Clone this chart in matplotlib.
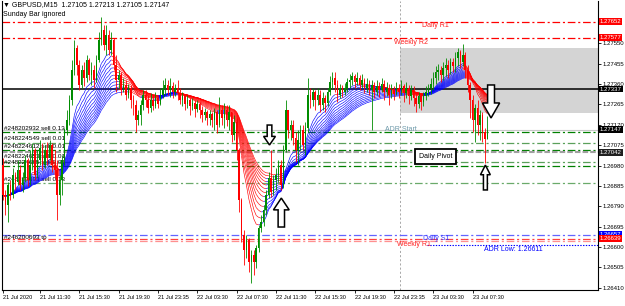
import numpy as np
import pandas as pd
import matplotlib
matplotlib.use('Agg')
import matplotlib.pyplot as plt
from matplotlib.collections import LineCollection
from matplotlib.patches import FancyArrow, Rectangle

plt.rcParams['font.family'] = ['Liberation Sans', 'DejaVu Sans']
plt.rcParams['lines.scale_dashes'] = False

# GBPUSD M15 candles (open = previous close)
first_open = 1.26982
closes = [
    1.26842, 1.26796, 1.26889, 1.26842, 1.26936, 1.26903, 1.26959, 1.26889, 1.26922, 1.27006,
    1.26912, 1.26982, 1.27053, 1.26936, 1.27006, 1.27062, 1.26982, 1.27053, 1.27015, 1.27076,
    1.26982, 1.26959, 1.26842, 1.26912, 1.27006, 1.27146, 1.27193, 1.27286, 1.27426, 1.27529,
    1.27449, 1.27356, 1.27426, 1.27389, 1.27473, 1.27403, 1.27426, 1.27379, 1.27473, 1.27566,
    1.27613, 1.27543, 1.27590, 1.27519, 1.27566, 1.27449, 1.27379, 1.27403, 1.27333, 1.27356,
    1.27309, 1.27342, 1.27286, 1.27263, 1.27193, 1.27216, 1.27263, 1.27309, 1.27286, 1.27249,
    1.27286, 1.27258, 1.27295, 1.27267, 1.27309, 1.27342, 1.27356, 1.27333, 1.27351, 1.27323,
    1.27342, 1.27319, 1.27286, 1.27305, 1.27267, 1.27286, 1.27258, 1.27272, 1.27244, 1.27267,
    1.27239, 1.27216, 1.27230, 1.27202, 1.27221, 1.27193, 1.27230, 1.27169, 1.27239, 1.27202,
    1.27239, 1.27193, 1.27230, 1.27123, 1.27183, 1.27053, 1.26819, 1.26656, 1.26585, 1.26632,
    1.26529, 1.26562, 1.26529, 1.26595, 1.26688, 1.26716, 1.26772, 1.26842, 1.26922, 1.26856,
    1.26912, 1.26936, 1.26982, 1.26889, 1.27053, 1.27239, 1.27146, 1.27169, 1.27109, 1.27053,
    1.27099, 1.27146, 1.27076, 1.27155, 1.27309, 1.27286, 1.27323, 1.27286, 1.27309, 1.27263,
    1.27295, 1.27272, 1.27323, 1.27370, 1.27389, 1.27356, 1.27309, 1.27342, 1.27323, 1.27342,
    1.27370, 1.27379, 1.27398, 1.27370, 1.27389, 1.27356, 1.27379, 1.27342, 1.27361, 1.27333,
    1.27356, 1.27323, 1.27351, 1.27333, 1.27361, 1.27323, 1.27342, 1.27309, 1.27333, 1.27314,
    1.27342, 1.27323, 1.27351, 1.27319, 1.27342, 1.27305, 1.27333, 1.27295, 1.27267, 1.27305,
    1.27277, 1.27305, 1.27323, 1.27342, 1.27361, 1.27389, 1.27417, 1.27426, 1.27403, 1.27435,
    1.27449, 1.27426, 1.27463, 1.27445, 1.27482, 1.27510, 1.27463, 1.27496, 1.27426, 1.27356,
    1.27286, 1.27193, 1.27249, 1.27169, 1.27216, 1.27137, 1.27105, 1.27147,
]
highs = [
    1.27015, 1.26866, 1.26903, 1.26912, 1.26968, 1.26950, 1.27006, 1.26982, 1.26950, 1.27029,
    1.27015, 1.27053, 1.27085, 1.27062, 1.27053, 1.27099, 1.27085, 1.27076, 1.27090, 1.27099,
    1.27085, 1.27053, 1.27006, 1.26936, 1.27029, 1.27155, 1.27239, 1.27309, 1.27473, 1.27566,
    1.27543, 1.27473, 1.27449, 1.27463, 1.27496, 1.27482, 1.27463, 1.27449, 1.27496, 1.27604,
    1.27674, 1.27636, 1.27636, 1.27613, 1.27604, 1.27576, 1.27496, 1.27426, 1.27417, 1.27389,
    1.27379, 1.27361, 1.27356, 1.27309, 1.27286, 1.27239, 1.27286, 1.27333, 1.27333, 1.27309,
    1.27319, 1.27309, 1.27323, 1.27309, 1.27342, 1.27379, 1.27389, 1.27379, 1.27389, 1.27370,
    1.27361, 1.27379, 1.27342, 1.27323, 1.27314, 1.27309, 1.27295, 1.27295, 1.27286, 1.27286,
    1.27277, 1.27258, 1.27249, 1.27239, 1.27239, 1.27230, 1.27249, 1.27239, 1.27300, 1.27263,
    1.27272, 1.27263, 1.27263, 1.27230, 1.27216, 1.27202, 1.27062, 1.26828, 1.26679, 1.26656,
    1.26642, 1.26585, 1.26585, 1.26609, 1.26702, 1.26749, 1.26796, 1.26866, 1.26950, 1.27053,
    1.26936, 1.26968, 1.27006, 1.27006, 1.27076, 1.27286, 1.27230, 1.27193, 1.27193, 1.27137,
    1.27146, 1.27169, 1.27169, 1.27183, 1.27389, 1.27342, 1.27342, 1.27333, 1.27342, 1.27333,
    1.27323, 1.27309, 1.27342, 1.27398, 1.27417, 1.27417, 1.27379, 1.27361, 1.27356, 1.27365,
    1.27389, 1.27407, 1.27417, 1.27407, 1.27417, 1.27403, 1.27407, 1.27389, 1.27389, 1.27379,
    1.27379, 1.27370, 1.27379, 1.27370, 1.27389, 1.27379, 1.27370, 1.27361, 1.27361, 1.27351,
    1.27370, 1.27361, 1.27379, 1.27361, 1.27370, 1.27356, 1.27356, 1.27351, 1.27323, 1.27323,
    1.27314, 1.27323, 1.27351, 1.27361, 1.27389, 1.27417, 1.27445, 1.27454, 1.27445, 1.27463,
    1.27482, 1.27473, 1.27482, 1.27482, 1.27510, 1.27529, 1.27519, 1.27548, 1.27510, 1.27449,
    1.27370, 1.27309, 1.27267, 1.27286, 1.27239, 1.27230, 1.27155, 1.27213,
]
lows = [
    1.26819, 1.26749, 1.26716, 1.26819, 1.26828, 1.26866, 1.26889, 1.26866, 1.26856, 1.26903,
    1.26884, 1.26889, 1.26959, 1.26912, 1.26922, 1.26982, 1.26959, 1.26968, 1.26982, 1.27006,
    1.26950, 1.26922, 1.26726, 1.26796, 1.26842, 1.26982, 1.27123, 1.27169, 1.27263, 1.27403,
    1.27403, 1.27333, 1.27342, 1.27351, 1.27370, 1.27379, 1.27356, 1.27342, 1.27370, 1.27463,
    1.27543, 1.27519, 1.27496, 1.27496, 1.27496, 1.27426, 1.27323, 1.27342, 1.27309, 1.27323,
    1.27286, 1.27295, 1.27249, 1.27216, 1.27137, 1.27169, 1.27169, 1.27239, 1.27253, 1.27225,
    1.27230, 1.27239, 1.27249, 1.27249, 1.27263, 1.27295, 1.27309, 1.27309, 1.27300, 1.27295,
    1.27305, 1.27286, 1.27267, 1.27258, 1.27239, 1.27249, 1.27216, 1.27239, 1.27207, 1.27230,
    1.27202, 1.27183, 1.27193, 1.27169, 1.27169, 1.27160, 1.27146, 1.27132, 1.27160, 1.27169,
    1.27155, 1.27165, 1.27146, 1.27090, 1.27099, 1.27006, 1.26763, 1.26623, 1.26515, 1.26548,
    1.26483, 1.26431, 1.26469, 1.26501, 1.26576, 1.26670, 1.26698, 1.26749, 1.26828, 1.26833,
    1.26842, 1.26866, 1.26903, 1.26866, 1.26875, 1.27043, 1.27109, 1.27099, 1.27076, 1.26996,
    1.26982, 1.27053, 1.27053, 1.27029, 1.27137, 1.27249, 1.27258, 1.27239, 1.27263, 1.27230,
    1.27239, 1.27230, 1.27258, 1.27309, 1.27342, 1.27323, 1.27277, 1.27295, 1.27300, 1.27309,
    1.27323, 1.27342, 1.27356, 1.27342, 1.27356, 1.27333, 1.27342, 1.27319, 1.27323, 1.27309,
    1.27146, 1.27295, 1.27309, 1.27300, 1.27323, 1.27286, 1.27305, 1.27263, 1.27295, 1.27286,
    1.27309, 1.27295, 1.27309, 1.27277, 1.27295, 1.27267, 1.27286, 1.27258, 1.27230, 1.27249,
    1.27239, 1.27258, 1.27286, 1.27305, 1.27314, 1.27333, 1.27361, 1.27379, 1.27370, 1.27379,
    1.27398, 1.27389, 1.27407, 1.27417, 1.27417, 1.27445, 1.27435, 1.27445, 1.27389, 1.27323,
    1.27202, 1.27137, 1.27090, 1.27123, 1.27099, 1.27090, 1.26992, 1.27105,
]
ema_periods = [10, 12, 14, 16, 18, 20, 22, 24, 26, 28, 30, 32, 34]

# time axis
tick_bars = [0, 15, 31, 47, 63, 79, 95, 111, 127, 143, 159, 175, 191]
tick_labels = ['21 Jul 2020', '21 Jul 11:30', '21 Jul 15:30', '21 Jul 19:30', '21 Jul 23:35',
               '22 Jul 03:30', '22 Jul 07:30', '22 Jul 11:30', '22 Jul 15:30', '22 Jul 19:30',
               '22 Jul 23:35', '23 Jul 03:30', '23 Jul 07:30']
price_ticks = [1.27550, 1.27455, 1.27360, 1.27265, 1.27170, 1.27075, 1.26980,
               1.26885, 1.26790, 1.26695, 1.26600, 1.26505, 1.26410]

# horizontal levels
level_prices = [1.27652, 1.27577, 1.27337, 1.27147, 1.27135, 1.27086, 1.27052, 1.27042,
                1.26995, 1.26979, 1.26898, 1.26657, 1.26639, 1.26628]
level_colors = ['#ff0000', '#ff0000', '#000000', '#c8c8c8', '#008000', '#5aa05a', '#008000',
                '#a0a0a0', '#5aa05a', '#008000', '#6aaa6a', '#6464ff', '#ff4040', '#ff9090']
adr_low = 1.26611
session_start = 161.5
box_top, box_bottom = 1.27529, 1.27225

# highlighted labels on the price scale
tag_prices = [1.27652, 1.27577, 1.27337, 1.27147, 1.27042, 1.26657, 1.26639]
tag_colors = ['#ff0000', '#ff0000', '#000000', '#000000', '#202020', '#0000ff', '#ff0000']

# order labels on the left
order_texts = ['#248202932 sell 0.13', '#248224549 sell 0.01', '#248224612 sell 0.01',
               '#248224653 sell 0.01', '#248224685 sell 0.01', '#248200693 sell 0.13',
               '#248200693 tp']
order_prices = [1.27155, 1.27105, 1.27067, 1.27020, 1.26996, 1.26917, 1.26646]

fig = plt.figure(figsize=(6.25, 3.06), dpi=100)
ax = fig.add_axes([2 / 625, 16 / 306, 596 / 625, 289 / 306])
ax.set_xlim(-0.4, 242.0)
ax.set_ylim(1.26399, 1.27748)

n = len(closes)
idx = np.arange(n)
c = np.array(closes)
o = np.array([first_open] + closes[:-1])
h = np.array(highs)
l = np.array(lows)

# session box and separator
ax.add_patch(Rectangle((session_start, box_bottom), 300, box_top - box_bottom,
                       facecolor='#d4d4d4', edgecolor='none', zorder=0))
ax.axvline(session_start, color='#a8a8a8', ls=(0, (1.5, 1.5)), lw=0.7, zorder=0.5)

dashdot = (0, (5.5, 2, 1.5, 2))
for p, col in zip(level_prices, level_colors):
    if col == '#000000':
        ax.axhline(p, color=col, lw=1.1, zorder=1)
    elif col == '#c8c8c8':
        ax.axhline(p, color=col, lw=0.8, zorder=1)
    elif col == '#a0a0a0':
        ax.axhline(p, color=col, lw=1.5, ls=(0, (4, 1.5)), zorder=1)
    else:
        ax.axhline(p, color=col, lw=0.9, ls=dashdot, zorder=1)
ax.plot([172.5, 250], [adr_low, adr_low], color='#0000ff', lw=0.8, ls=(0, (1, 1)), zorder=1)

for t, p in zip(order_texts, order_prices):
    ax.text(0.6, p, t, fontsize=4.6, va='center', ha='left', zorder=1.5)

# level texts
ax.text(176, 1.27632, 'Daily R1', color='#ff2020', fontsize=5, ha='center', va='center')
ax.text(166, 1.27552, 'Weekly R2', color='#ff2020', fontsize=5, ha='center', va='center')
ax.text(162, 1.27146, 'ADR Start', color='#6e9aaa', fontsize=5, ha='center', va='center')
ax.text(176, 1.26638, 'Daily S1', color='#3030ff', fontsize=5, ha='center', va='center')
ax.text(167, 1.26613, 'Weekly R1', color='#ff2020', fontsize=5, ha='center', va='center')
ax.text(195.5, 1.26590, 'ADR Low: 1.26611', color='#0000ff', fontsize=5, ha='left', va='center')
ax.text(176, 1.27023, 'Daily Pivot', fontsize=5, ha='center', va='center', zorder=5,
        bbox=dict(boxstyle='square,pad=0.55', facecolor='white', edgecolor='black', lw=1.3))

# moving average ribbon, coloured by slope
s = pd.Series(c)
for per in ema_periods:
    e = s.ewm(span=per, adjust=False).mean().values
    segs = np.stack([np.column_stack([idx[:-1], e[:-1]]), np.column_stack([idx[1:], e[1:]])], axis=1)
    cols = ['#0000ff' if e[k + 1] >= e[k] else '#ff0000' for k in range(n - 1)]
    ax.add_collection(LineCollection(segs, colors=cols, linewidths=0.45, zorder=2))

# candles
up = c >= o
cand_col = np.where(up, '#008c00', '#ff0000')
ax.vlines(idx, l, h, colors=cand_col, lw=0.6, zorder=3)
body = np.maximum(np.abs(c - o), 0.00003)
ax.bar(idx, body, bottom=np.minimum(o, c), width=0.62, color=cand_col, zorder=3)

# hand-drawn arrows: (bar, start price, end price, shaft width, head width, head length)
arrows = [(108.4, 1.27169, 1.27076, 1.9, 4.8, 0.00040),
          (113.2, 1.26693, 1.26828, 2.6, 6.4, 0.00055),
          (198.5, 1.27356, 1.27202, 2.8, 7.0, 0.00070),
          (196.2, 1.26866, 1.26982, 1.6, 4.0, 0.00045)]
for xb, p0, p1, w, hw, hl in arrows:
    ax.add_patch(FancyArrow(xb, p0, 0, p1 - p0, width=w, head_width=hw, head_length=hl,
                            length_includes_head=True, facecolor='white', edgecolor='black',
                            lw=1.1, zorder=6))

# axes styling
for side in ['top']:
    ax.spines[side].set_visible(False)
for side in ['left', 'right', 'bottom']:
    ax.spines[side].set_linewidth(0.8)
ax.yaxis.tick_right()
ax.set_yticks(price_ticks)
ax.set_yticklabels(['%.5f' % p for p in price_ticks])
ax.tick_params(axis='y', length=2, width=0.6, pad=1.2, labelsize=4.3)
ax.set_xticks(tick_bars)
ax.set_xticklabels(tick_labels, ha='left')
ax.tick_params(axis='x', length=2, width=0.6, pad=1.5, labelsize=4.1)

for p, col in zip(tag_prices, tag_colors):
    ax.text(1.003, p, '%.5f' % p, transform=ax.get_yaxis_transform(), color='white',
            fontsize=4.3, va='center', ha='left', clip_on=False, zorder=10,
            bbox=dict(boxstyle='square,pad=0.15', facecolor=col, edgecolor='none'))

fig.text(3 / 625, 1 - 5 / 306, '\u25bc GBPUSD,M15  1.27105 1.27213 1.27105 1.27147',
         fontsize=5, va='center', ha='left')
fig.text(3 / 625, 1 - 15 / 306, 'Sunday Bar ignored', fontsize=5, va='center', ha='left')

fig.savefig('out.png', dpi=100)
